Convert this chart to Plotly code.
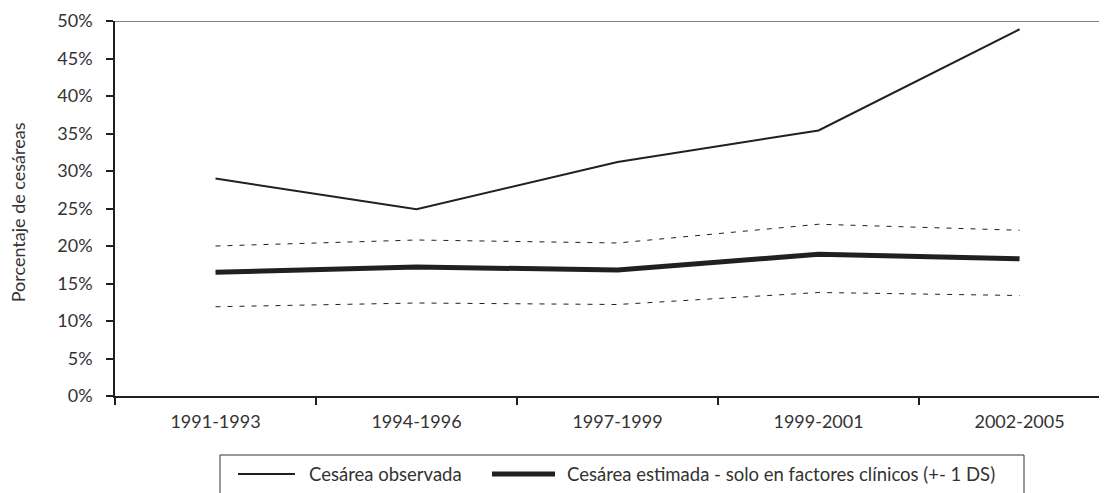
import plotly.graph_objects as go

# periods on the x axis
periodos = ['1991-1993', '1994-1996', '1997-1999', '1999-2001', '2002-2005']

# percentages
observada = [29.0, 24.9, 31.2, 35.4, 48.9]
estimada = [16.5, 17.2, 16.8, 18.9, 18.3]
estimada_sup = [20.0, 20.8, 20.4, 22.9, 22.1]
estimada_inf = [11.9, 12.4, 12.2, 13.8, 13.4]

nombre_obs = 'Cesárea observada'
nombre_est = 'Cesárea estimada - solo en factores clínicos (+- 1 DS)'

FONT = 'Lato'
INK = '#231f20'
TEXT = '#333333'

# plot area in window pixels: x 115..1107, y 21..396
def px_x(px):
    return (px - 115) / 992

def px_y(py):
    return (396 - py) / 375

fig = go.Figure()

# +/- 1 DS band (dashed, not in legend)
for serie in (estimada_sup, estimada_inf):
    fig.add_trace(go.Scatter(
        x=periodos, y=serie, mode='lines',
        line=dict(color=INK, width=1, dash='5px,7px'),
        showlegend=False, hoverinfo='skip'
    ))

fig.add_trace(go.Scatter(
    x=periodos, y=observada, mode='lines', name=nombre_obs,
    line=dict(color=INK, width=2), showlegend=False
))

fig.add_trace(go.Scatter(
    x=periodos, y=estimada, mode='lines', name=nombre_est,
    line=dict(color=INK, width=5), showlegend=False
))

# thin grey frame line at the top of the plot
fig.add_shape(type='line', xref='paper', x0=0, x1=1, yref='y', y0=50, y1=50,
              line=dict(color='#555555', width=1.5))

# hand-drawn legend box (runs off the bottom edge like the original)
fig.add_shape(type='rect', xref='paper', yref='paper',
              x0=px_x(220), x1=px_x(1024), y0=px_y(455), y1=px_y(520),
              line=dict(color=TEXT, width=1))
legend_y = px_y(474)
for x0, x1, w, txt_x, txt in [(238, 295, 2, 307, nombre_obs),
                              (492, 555, 5, 565, nombre_est)]:
    fig.add_shape(type='line', xref='paper', yref='paper',
                  x0=px_x(x0), x1=px_x(x1), y0=legend_y, y1=legend_y,
                  line=dict(color=INK, width=w))
    fig.add_annotation(text=txt, xref='paper', yref='paper',
                       x=px_x(txt_x), y=legend_y, xanchor='left', yanchor='middle',
                       showarrow=False, font=dict(family=FONT, size=18.5, color=TEXT))

fig.add_annotation(
    text='Porcentaje de cesáreas', textangle=-90,
    xref='paper', x=0, xshift=-97, xanchor='center',
    yref='paper', y=0.49, yanchor='middle',
    showarrow=False, font=dict(family=FONT, size=18, color=TEXT)
)

fig.update_xaxes(
    type='category', range=[-0.5, 4.435], automargin=False,
    showline=True, linecolor=INK, linewidth=1.5,
    ticks='outside', tickson='boundaries', ticklen=7, tickcolor=INK, tickwidth=1.5,
    ticklabelstandoff=9,
    showgrid=False, zeroline=False,
    tickfont=dict(family=FONT, size=18, color=TEXT)
)

fig.update_yaxes(
    range=[0, 50], dtick=5, ticksuffix='%', automargin=False,
    showline=True, linecolor=INK, linewidth=1.5,
    ticks='outside', ticklen=7, tickcolor=INK, tickwidth=1.5,
    ticklabelstandoff=10,
    showgrid=False, zeroline=False,
    tickfont=dict(family=FONT, size=18, color=TEXT)
)

# page body keeps its 8px margin, so the figure is 8px smaller than the window
fig.update_layout(
    width=1099, height=485,
    margin=dict(l=107, r=0, t=13, b=97),
    plot_bgcolor='white', paper_bgcolor='white',
    showlegend=False
)

fig.write_html('out.html')
